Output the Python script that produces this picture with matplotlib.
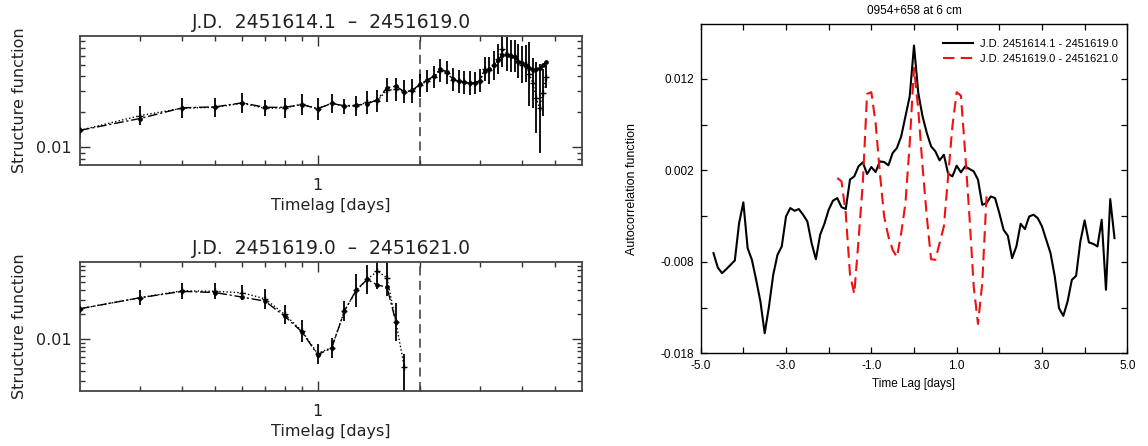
import numpy as np
import matplotlib
matplotlib.use("Agg")
import matplotlib.pyplot as plt
from matplotlib.ticker import FixedLocator, NullFormatter, FixedFormatter

# ---------------- data ----------------
top_title = "J.D.  2451614.1  \u2013  2451619.0"
bot_title = "J.D.  2451619.0  \u2013  2451621.0"

top_lag = np.round(np.arange(2, 48) / 10.0, 1)          # 0.2 ... 4.7 days
top_sf_a = [0.0139, 0.0175, 0.0216, 0.0220, 0.0238, 0.0218, 0.0218, 0.0230, 0.0212, 0.0235,
            0.0225, 0.0227, 0.0233, 0.0253, 0.0320, 0.0330, 0.0296, 0.0304, 0.0342, 0.0370,
            0.0403, 0.0459, 0.0439, 0.0377, 0.0365, 0.0358, 0.0351, 0.0351, 0.0365, 0.0444,
            0.0459, 0.0500, 0.0549, 0.0610, 0.0610, 0.0598, 0.0586, 0.0525, 0.0514, 0.0491,
            0.0475, 0.0451, 0.0459, 0.0467, 0.0500, 0.0525]
top_sf_b = [0.0139, 0.0185, 0.0214, 0.0218, 0.0236, 0.0214, 0.0215, 0.0232, 0.0212, 0.0236,
            0.0222, 0.0225, 0.0240, 0.0248, 0.0305, 0.0310, 0.0296, 0.0300, 0.0335, 0.0365,
            0.0395, 0.0448, 0.0430, 0.0375, 0.0362, 0.0355, 0.0350, 0.0352, 0.0368, 0.0459,
            0.0450, 0.0495, 0.0560, 0.0682, 0.0620, 0.0600, 0.0600, 0.0540, 0.0500, 0.0510,
            0.0420, 0.0350, 0.0263, 0.0213, 0.0290, 0.0398]
top_err_dex = [0.064, 0.081, 0.086, 0.083, 0.083, 0.070, 0.083, 0.089, 0.093, 0.079,
               0.064, 0.086, 0.100, 0.093, 0.100, 0.100, 0.100, 0.100, 0.100, 0.093,
               0.093, 0.097, 0.100, 0.100, 0.100, 0.100, 0.100, 0.093, 0.100, 0.100,
               0.114, 0.121, 0.129, 0.150, 0.143, 0.136, 0.136, 0.143, 0.157, 0.157,
               0.270, 0.214, 0.300, 0.380, 0.200, 0.100]

bot_lag = np.round(np.arange(2, 19) / 10.0, 1)          # 0.2 ... 1.8 days
bot_sf_a = [0.0235, 0.0321, 0.0385, 0.0372, 0.0327, 0.0292, 0.0190, 0.0122, 0.0064, 0.0077,
            0.0220, 0.0400, 0.0540, 0.0460, 0.0435, 0.0162]
bot_sf_b = [0.0235, 0.0321, 0.0392, 0.0385, 0.0370, 0.0312, 0.0200, 0.0125, 0.0066, 0.0078,
            0.0222, 0.0395, 0.0540, 0.0685, 0.0566, 0.0162, 0.0045]
bot_err_hi_dex = [0.060, 0.093, 0.100, 0.100, 0.093, 0.120, 0.113, 0.134, 0.123, 0.123,
                  0.123, 0.200, 0.175, 0.216, 0.230, 0.235, 0.164]
bot_err_lo_dex = [0.060, 0.093, 0.100, 0.100, 0.093, 0.120, 0.113, 0.134, 0.123, 0.123,
                  0.123, 0.200, 0.175, 0.216, 0.230, 0.235, 0.500]

acf_lag = np.round(np.arange(-47, 48) / 10.0, 1)        # -4.7 ... 4.7 days
acf_1 = [-0.00705, -0.00862, -0.00924, -0.00880, -0.00833, -0.00785, -0.00377, -0.00150, -0.00650, -0.00778,
         -0.00997, -0.01234, -0.01581, -0.01289, -0.00942, -0.00723, -0.00632, -0.00304, -0.00212, -0.00242,
         -0.00223, -0.00285, -0.00358, -0.00596, -0.00771, -0.00504, -0.00384, -0.00231, -0.00132, -0.00103,
         -0.00201, -0.00223, 0.00100, 0.00134, 0.00244, 0.00288, 0.00160, 0.00236, 0.00182, 0.00298,
         0.00291, 0.00255, 0.00390, 0.00445, 0.00572, 0.00791, 0.01010, 0.01565, 0.01047, 0.00791,
         0.00609, 0.00463, 0.00408, 0.00309, 0.00371, 0.00164, 0.00134, 0.00251, 0.00178, 0.00244,
         0.00215, 0.00189, 0.00098, -0.00176, -0.00158, -0.00085, -0.00103, -0.00267, -0.00450, -0.00515,
         -0.00760, -0.00632, -0.00384, -0.00442, -0.00304, -0.00285, -0.00322, -0.00413, -0.00559, -0.00705,
         -0.00960, -0.01307, -0.01391, -0.01234, -0.00997, -0.00953, -0.00577, -0.00347, -0.00588, -0.00603,
         -0.00632, -0.00340, -0.01106, -0.00114, -0.00541]
acf2_lag = np.round(np.arange(-18, 18) / 10.0, 1)       # -1.8 ... 1.7 days
acf_2 = [0.00116, 0.00080, -0.00267, -0.00942, -0.01150, -0.00559, 0.00061, 0.01036, 0.01054, 0.00718,
         0.00171, -0.00304, -0.00523, -0.00669, -0.00749, -0.00486, -0.00158, 0.00499, 0.01320, 0.00864,
         0.00244, -0.00304, -0.00771, -0.00778, -0.00596, -0.00413, 0.00134, 0.00682, 0.01054, 0.01017,
         0.00390, -0.00304, -0.01070, -0.01479, -0.01033, -0.00085]
acf_labels = ["J.D. 2451614.1 - 2451619.0", "J.D. 2451619.0 - 2451621.0"]
acf_title = "0954+658 at 6 cm"

# ---------------- figure ----------------
W, H = 1148, 446
fig = plt.figure(figsize=(W / 100, H / 100), dpi=100)

def box(l, t, r, b):
    return [l / W, 1 - b / H, (r - l) / W, (b - t) / H]

TXT = "#222222"
LFONT = "DejaVu Sans"
LSIZE = 11.5

def sf_panel(rect, title, lag_a, sf_a, lag_b, sf_b, e_lo, e_hi, ylim, yminor):
    ax = fig.add_axes(rect)
    ax.set_xscale("log")
    ax.set_yscale("log")
    sf_b = np.asarray(sf_b)
    lo = sf_b - sf_b / 10 ** np.asarray(e_lo)
    hi = sf_b * 10 ** np.asarray(e_hi) - sf_b
    ax.errorbar(lag_b, sf_b, yerr=[lo, hi], fmt="none", ecolor="black",
                elinewidth=1.3, capsize=0, zorder=2)
    ax.plot(lag_b, sf_b, color="black", lw=1.0, ls=(0, (1, 1.6)),
            marker="+", ms=5, mew=1.0, zorder=3)
    ax.plot(lag_a, sf_a, color="black", lw=1.0, ls=(0, (7, 2, 1.5, 2)),
            marker="o", ms=2.4, zorder=3)
    ax.axvline(2.0, color="#555555", lw=1.3, ls=(0, (5, 3)), zorder=1)
    ax.set_xlim(0.2, 6.0)
    ax.set_ylim(*ylim)
    ax.xaxis.set_major_locator(FixedLocator([1.0]))
    ax.xaxis.set_major_formatter(FixedFormatter(["1"]))
    ax.xaxis.set_minor_locator(FixedLocator([0.3, 0.4, 0.5, 0.6, 0.7, 0.8, 0.9, 2, 3, 4, 5]))
    ax.xaxis.set_minor_formatter(NullFormatter())
    ax.yaxis.set_major_locator(FixedLocator([0.01]))
    ax.yaxis.set_major_formatter(FixedFormatter(["0.01"]))
    ax.yaxis.set_minor_locator(FixedLocator(yminor))
    ax.yaxis.set_minor_formatter(NullFormatter())
    ax.tick_params(which="both", direction="in", top=True, right=True,
                   colors="#333333", labelcolor=TXT, labelsize=LSIZE, width=1.0)
    ax.tick_params(which="major", length=7)
    ax.tick_params(which="minor", length=3.5)
    ax.tick_params(axis="x", pad=9)
    ax.tick_params(axis="y", pad=6)
    for s in ax.spines.values():
        s.set_color("#444444")
        s.set_linewidth(1.3)
    for lab in ax.get_xticklabels() + ax.get_yticklabels():
        lab.set_family(LFONT)
    ax.set_title(title, fontsize=13.5, color=TXT, family=LFONT, pad=6)
    ax.set_xlabel("Timelag [days]", fontsize=LSIZE, color=TXT, family=LFONT, labelpad=4)
    ax.set_ylabel("Structure function", fontsize=LSIZE, color=TXT, family=LFONT)
    ax.yaxis.set_label_coords((27 - 80) / 502, 0.5)
    return ax

sf_panel(box(80, 36, 582, 165), top_title, top_lag, top_sf_a, top_lag, top_sf_b,
         top_err_dex, top_err_dex, (0.00705, 0.088),
         [0.008, 0.009, 0.02, 0.03, 0.04, 0.05, 0.06, 0.07, 0.08])
sf_panel(box(80, 262, 582, 391), bot_title, bot_lag[:len(bot_sf_a)], bot_sf_a, bot_lag, bot_sf_b,
         bot_err_lo_dex, bot_err_hi_dex, (0.00228, 0.0885),
         [0.003, 0.004, 0.005, 0.006, 0.007, 0.008, 0.009,
          0.02, 0.03, 0.04, 0.05, 0.06, 0.07, 0.08])

# ---------------- right panel ----------------
RFONT = "Liberation Sans"
ax = fig.add_axes(box(700.7, 24, 1127.3, 353.3))
ax.plot(acf_lag, acf_1, color="black", lw=1.5, label=acf_labels[0])
ax.plot(acf2_lag, acf_2, color="#ee1111", lw=1.5, ls=(0, (5.5, 3)), label=acf_labels[1])
ax.set_xlim(-5, 5)
ax.set_ylim(-0.018, 0.018)
ax.set_xticks([-5, -3, -1, 1, 3, 5])
ax.set_xticklabels(["-5.0", "-3.0", "-1.0", "1.0", "3.0", "5.0"])
ax.set_xticks([-4, -2, 0, 2, 4], minor=True)
ax.set_yticks([-0.018, -0.008, 0.002, 0.012])
ax.set_yticklabels(["-0.018", "-0.008", "0.002", "0.012"])
ax.set_yticks([-0.013, -0.003, 0.007], minor=True)
ax.tick_params(which="both", direction="in", top=True, right=True, length=4,
               width=0.9, labelsize=8.5, colors="black")
ax.tick_params(axis="x", pad=5)
ax.tick_params(axis="y", pad=5)
for s in ax.spines.values():
    s.set_linewidth(1.0)
for lab in ax.get_xticklabels() + ax.get_yticklabels():
    lab.set_family(RFONT)
ax.set_title(acf_title, fontsize=8.5, family=RFONT, pad=7)
ax.set_xlabel("Time Lag [days]", fontsize=8.5, family=RFONT, labelpad=4)
ax.set_ylabel("Autocorrelation function", fontsize=9, family=RFONT)
ax.yaxis.set_label_coords((638 - 700.7) / 426.6, 0.5)
ax.legend(loc="upper left", bbox_to_anchor=(0.568, 0.955), frameon=False,
          prop={"family": RFONT, "size": 8}, handlelength=2.7, handletextpad=0.6,
          borderpad=0, borderaxespad=0, labelspacing=0.45)

fig.savefig("out.png", dpi=100)
